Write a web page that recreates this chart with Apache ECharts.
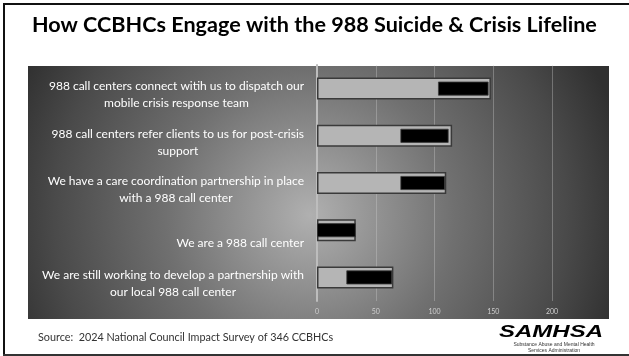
<!DOCTYPE html>
<html>
<head>
<meta charset="utf-8">
<script src="https://cdn.jsdelivr.net/npm/echarts@6/dist/echarts.min.js"></script>
<style>
  html, body { margin: 0; padding: 0; background: #ffffff; }
  #chart { width: 629px; height: 356px; }
</style>
</head>
<body>
<div id="chart"></div>
<script>
// Survey answers, listed top to bottom
const categories = [
  '988 call centers connect witih us to dispatch our\nmobile crisis response team',
  '988 call centers refer clients to us for post-crisis\nsupport',
  'We have a care coordination partnership in place\nwith a 988 call center',
  'We are a 988 call center',
  'We are still working to develop a partnership with\nour local 988 call center'
];

// Light grey bars: full length of each answer
const barTotals = [148, 115, 110, 33, 65];

// Black inner bars: where each one starts and ends on the value axis
const darkFrom = [103, 71, 71, 0, 25];
const darkTo = [146, 112, 109, 33, 64];

// Value axis ticks
const tickValues = [0, 50, 100, 150, 200];
const axisMax = 250;

const darkLength = darkTo.map((v, i) => v - darkFrom[i]);

const chart = echarts.init(document.getElementById('chart'), null, { renderer: 'canvas' });

const labelFont = 'Lato, "Open Sans", sans-serif';

const option = {
  animation: false,
  backgroundColor: '#ffffff',
  grid: { left: 317, right: 18.25, top: 65, bottom: 55, containLabel: false },
  xAxis: {
    type: 'value',
    min: tickValues[0],
    max: axisMax,
    interval: tickValues[1] - tickValues[0],
    axisLine: { show: false },
    axisTick: { show: false },
    axisLabel: {
      showMaxLabel: false,
      color: '#cfcfcf',
      fontSize: 7,
      fontFamily: labelFont,
      margin: 7
    },
    splitLine: {
      show: true,
      showMinLine: false,
      showMaxLine: false,
      lineStyle: { color: 'rgba(210,210,210,0.35)', width: 1 }
    }
  },
  yAxis: [
    {
      type: 'category',
      data: categories,
      inverse: true,
      axisLine: { show: true, lineStyle: { color: '#bdbdbd', width: 2 } },
      axisTick: { show: false },
      axisLabel: {
        interval: 0,
        margin: 13,
        color: '#ffffff',
        fontSize: 12,
        fontFamily: labelFont,
        formatter: function (value) {
          const lines = value.split('\n');
          if (lines.length === 1) return '{s|' + value + '}';
          return '{a|' + lines[0] + '}\n{b|' + lines[1] + '}';
        },
        rich: {
          a: { align: 'center', color: '#ffffff', fontSize: 12, fontFamily: labelFont, padding: [16, 0, 3, 0] },
          b: { align: 'center', color: '#ffffff', fontSize: 12, fontFamily: labelFont, padding: [2, 0, 3, 0] },
          s: { color: '#ffffff', fontSize: 12, fontFamily: labelFont, padding: [25, 0, 0, 0] }
        }
      }
    },
    {
      type: 'category',
      data: categories,
      inverse: true,
      show: false
    }
  ],
  series: [
    {
      name: 'Total',
      type: 'bar',
      yAxisIndex: 0,
      data: barTotals,
      barWidth: 22,
      z: 2,
      itemStyle: { color: '#b5b5b5', borderColor: '#3a3a3a', borderWidth: 1.5 }
    },
    {
      name: 'offset',
      type: 'bar',
      yAxisIndex: 1,
      stack: 'dark',
      data: darkFrom,
      barWidth: 14,
      z: 3,
      silent: true,
      itemStyle: { color: 'rgba(0,0,0,0)' }
    },
    {
      name: 'Highlight',
      type: 'bar',
      yAxisIndex: 1,
      stack: 'dark',
      data: darkLength,
      barWidth: 14,
      z: 3,
      itemStyle: { color: '#000000', borderColor: '#3c3c3c', borderWidth: 0.8 }
    }
  ],
  graphic: [
    // dark shaded plot panel
    {
      type: 'rect',
      z: -100,
      shape: { x: 28, y: 66, width: 581, height: 253 },
      style: {
        fill: new echarts.graphic.RadialGradient(310, 215, 320, [
          { offset: 0, color: '#b0b0b0' },
          { offset: 0.45, color: '#707070' },
          { offset: 0.8, color: '#4a4a4a' },
          { offset: 1, color: '#303030' }
        ], true)
      }
    },
    // slide frame
    { type: 'line', z: 10, shape: { x1: 4, y1: 3, x2: 4, y2: 356 }, style: { stroke: '#111111', lineWidth: 2 } },
    { type: 'line', z: 10, shape: { x1: 3, y1: 4, x2: 629, y2: 4 }, style: { stroke: '#111111', lineWidth: 2 } },
    { type: 'line', z: 10, shape: { x1: 3, y1: 355, x2: 629, y2: 355 }, style: { stroke: '#333333', lineWidth: 2 } },
    // heading
    {
      type: 'text', z: 10, x: 32, y: 25,
      style: {
        text: 'How CCBHCs Engage with the 988 Suicide & Crisis Lifeline',
        font: 'bold 21.6px Lato, "Open Sans", sans-serif',
        fill: '#000000', textVerticalAlign: 'middle'
      }
    },
    // source note
    {
      type: 'text', z: 10, x: 38, y: 338,
      style: {
        text: 'Source:  2024 National Council Impact Survey of 346 CCBHCs',
        font: '10.8px Lato, "Open Sans", sans-serif',
        fill: '#333333', textVerticalAlign: 'middle'
      }
    },
    // agency mark
    {
      type: 'text', z: 10, x: 603, y: 333, scaleX: 1.5,
      style: {
        text: 'SAMHSA',
        font: 'italic bold 16px "Liberation Sans", Arial, sans-serif',
        fill: '#000000', textAlign: 'right', textVerticalAlign: 'middle'
      }
    },
    {
      type: 'text', z: 10, x: 554, y: 345,
      style: {
        text: 'Substance Abuse and Mental Health',
        font: '5px "Liberation Sans", Arial, sans-serif',
        fill: '#333333', textAlign: 'center', textVerticalAlign: 'middle'
      }
    },
    {
      type: 'text', z: 10, x: 554, y: 350.5,
      style: {
        text: 'Services Administration',
        font: '5px "Liberation Sans", Arial, sans-serif',
        fill: '#333333', textAlign: 'center', textVerticalAlign: 'middle'
      }
    }
  ]
};

chart.setOption(option);
</script>
</body>
</html>
